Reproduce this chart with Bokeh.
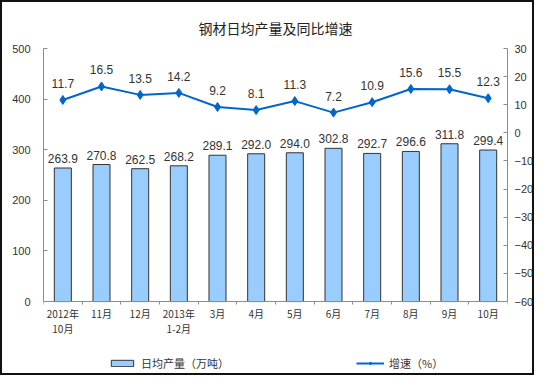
from bokeh.plotting import figure
from bokeh.models import (Range1d, LinearAxis, FixedTicker, ColumnDataSource, Legend, LegendItem)
from bokeh.embed import file_html
from bokeh.resources import INLINE
from bokeh.core.properties import value

categories = ["2012年\n10月", "11月", "12月", "2013年\n1-2月", "3月", "4月", "5月", "6月", "7月", "8月", "9月", "10月"]
output = [263.9, 270.8, 262.5, 268.2, 289.1, 292.0, 294.0, 302.8, 292.7, 296.6, 311.8, 299.4]
growth = [11.7, 16.5, 13.5, 14.2, 9.2, 8.1, 11.3, 7.2, 10.9, 15.6, 15.5, 12.3]
left_ticks = [0, 100, 200, 300, 400, 500]
right_ticks = [30, 20, 10, 0, -10, -20, -30, -40, -50, -60]

n = len(categories)
xs = [i + 0.5 for i in range(n)]
src = ColumnDataSource(dict(
    x=xs, out=output, g=growth,
    out_lbl=[f"{v:.1f}" for v in output],
    g_lbl=[f"{v:.1f}" for v in growth],
))

# layout (pixels)
W, H, B = 534, 375, 2
top_px, axis_px = 48 - B, 298 - B   # y of value top and of zero line (inside the border)
extra_px = (H - 2 * B) - axis_px    # frame extends below the axis to host the legend
plot_px = axis_px - top_px
l_lo, l_hi = 0, 500
r_lo, r_hi = -60, 30
l_bottom = l_lo - extra_px * (l_hi - l_lo) / plot_px
r_bottom = r_lo - extra_px * (r_hi - r_lo) / plot_px

p = figure(width=W, height=H, output_backend="svg", toolbar_location=None,
           x_range=Range1d(0, n), y_range=Range1d(l_bottom, l_hi),
           min_border_left=43 - B, min_border_right=31 - B, min_border_top=top_px, min_border_bottom=0)
p.extra_y_ranges = {"r": Range1d(r_bottom, r_hi)}
p.xgrid.visible = False
p.ygrid.visible = False
p.outline_line_color = None
p.background_fill_color = "white"
p.border_fill_color = "white"
p.styles = {"border": f"{B}px solid #111"}

p.title.text = "钢材日均产量及同比增速"
p.title.align = "center"
p.title.text_font = "Noto Sans CJK SC"
p.title.text_font_size = "14px"
p.title.text_font_style = "normal"
p.title.text_color = "#222222"
p.title.standoff = 21

axis_col = "#8c8c8c"
lab_col = "#333333"

# left axis
ya = p.yaxis[0]
ya.ticker = FixedTicker(ticks=left_ticks)
ya.bounds = (l_lo, l_hi)
ya.axis_line_color = axis_col
ya.major_tick_line_color = axis_col
ya.major_tick_in = 4
ya.major_tick_out = 0
ya.minor_tick_line_color = None
ya.major_label_text_font = "Liberation Sans"
ya.major_label_text_font_size = "11px"
ya.major_label_text_color = lab_col
ya.major_label_standoff = 13

# right axis
ra = LinearAxis(y_range_name="r", ticker=FixedTicker(ticks=right_ticks), bounds=(r_lo, r_hi))
ra.axis_line_color = axis_col
ra.major_tick_line_color = axis_col
ra.major_tick_in = 4
ra.major_tick_out = 0
ra.minor_tick_line_color = None
ra.major_label_text_font = "Liberation Sans"
ra.major_label_text_font_size = "11px"
ra.major_label_text_color = lab_col
ra.major_label_standoff = 7
p.add_layout(ra, "right")

# x axis, pinned at zero
xa = p.xaxis[0]
xa.fixed_location = 0
xa.ticker = FixedTicker(ticks=xs, minor_ticks=list(range(n + 1)))
xa.major_label_overrides = {x: c for x, c in zip(xs, categories)}
xa.axis_line_color = axis_col
xa.major_tick_line_color = None
xa.major_tick_in = 0
xa.major_tick_out = 0
xa.minor_tick_line_color = axis_col
xa.minor_tick_in = 0
xa.minor_tick_out = 3
xa.major_label_text_font = "Noto Sans CJK SC"
xa.major_label_text_font_size = "10px"
xa.major_label_text_color = lab_col
xa.major_label_text_line_height = 1.0
xa.major_label_standoff = 1

bars = p.vbar(x="x", top="out", bottom=0, width=0.44, source=src,
              fill_color="#99CCFF", line_color="#333333", line_width=1)
p.text(x="x", y="out", text="out_lbl", source=src, text_align="center", text_baseline="bottom",
       y_offset=-5, text_font=value("Liberation Sans"), text_font_size="12px", text_color=lab_col)

line = p.line(x="x", y="g", source=src, y_range_name="r", line_color="#0066CC", line_width=2)
pts = p.scatter(x="x", y="g", source=src, y_range_name="r", marker="diamond", size=9,
                fill_color="#0066CC", line_color="#0066CC")
p.text(x="x", y="g", text="g_lbl", source=src, y_range_name="r", text_align="center", text_baseline="bottom",
       y_offset=-12, text_font=value("Liberation Sans"), text_font_size="12px", text_color=lab_col)

legend = Legend(items=[LegendItem(label="日均产量（万吨）", renderers=[bars]),
                       LegendItem(label="增速（%）", renderers=[line, pts])],
                orientation="horizontal", location=(61, 2), spacing=127,
                glyph_width=28, glyph_height=8, border_line_alpha=0, background_fill_alpha=0,
                label_text_font="Noto Sans CJK SC", label_text_font_size="11px",
                label_text_color=lab_col, margin=0, padding=4)
p.add_layout(legend)

open("out.html", "w").write(file_html(p, INLINE))
